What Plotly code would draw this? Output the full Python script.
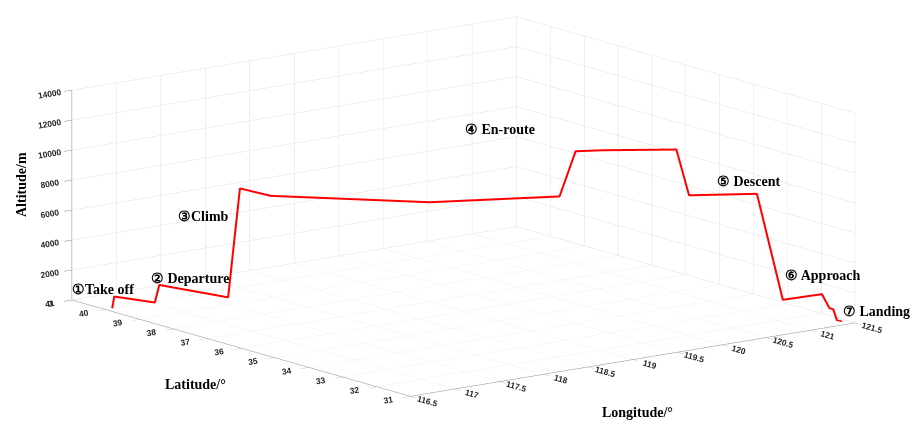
import plotly.graph_objects as go

# Flight trajectory (Beijing -> Shanghai)
lon = [116.58, 116.55, 116.69, 116.71, 116.89, 117.00, 117.22, 118.34, 119.41,
       119.53, 119.75, 120.29, 120.36, 120.88, 121.00, 121.42, 121.46, 121.46,
       121.43, 121.44]
lat = [40.02, 39.88, 39.05, 38.97, 37.41, 37.35, 37.02, 35.27, 34.24,
       34.08, 33.85, 33.10, 32.91, 32.27, 31.82, 31.77, 31.65, 31.54,
       31.35, 31.23]
alt = [0, 900, 900, 2100, 2100, 9300, 8800, 8400, 8400,
       11400, 11400, 11400, 8400, 8400, 1500, 1500, 600, 600,
       0, 0]

# Phase labels: (text, index of trajectory vertex, x shift px, y shift px)
phase_text = ["\u2460Take off", "\u2461 Departure", "\u2462Climb", "\u2463 En-route",
              "\u2464 Descent", "\u2465 Approach", "\u2466 Landing"]
phase_idx = [1, 3, 5, 9, 13, 15, 19]
phase_dx = [-11, 31, -36, -76, -8, 1, 35]
phase_dy = [7, 6, -28, 22, 12, 19, 10]

lon_ticks = [116.5, 117, 117.5, 118, 118.5, 119, 119.5, 120, 120.5, 121, 121.5]
lat_ticks = [31, 32, 33, 34, 35, 36, 37, 38, 39, 40, 41]
alt_ticks = [0, 2000, 4000, 6000, 8000, 10000, 12000, 14000]

fig = go.Figure()
fig.add_trace(go.Scatter3d(
    x=lon, y=lat, z=alt, mode="lines",
    line=dict(color="#ff0000", width=4),
    hoverinfo="skip", showlegend=False))

tickfont = dict(family="Liberation Sans, Arial, sans-serif", size=10, color="#262626", weight="bold")
common = dict(showbackground=True, backgroundcolor="white", gridcolor="#e0e0e0",
              gridwidth=1, showline=True, linecolor="#8c8c8c", linewidth=1,
              ticks="outside", ticklen=10, tickcolor="#8c8c8c", tickfont=tickfont,
              zeroline=False, showspikes=False, title=dict(text=""))

serif = "Liberation Serif, DejaVu Serif, serif"
ann3d = []
for t, i, dx, dy in zip(phase_text, phase_idx, phase_dx, phase_dy):
    ann3d.append(dict(x=lon[i], y=lat[i], z=alt[i], text=t, showarrow=False,
                      xshift=dx, yshift=dy,
                      font=dict(family=serif, size=14, color="black", weight="bold")))

R = 5.0
fig.update_layout(
    width=915, height=429,
    margin=dict(l=0, r=0, t=0, b=0),
    paper_bgcolor="white",
    scene=dict(
        domain=dict(x=[0.0131, 1.0], y=[0.0373, 1.0]),
        xaxis=dict(range=[116.5, 121.5], tickvals=lon_ticks, **common),
        yaxis=dict(range=[31, 41], tickvals=lat_ticks, **common),
        zaxis=dict(range=[0, 14000], tickvals=alt_ticks, tickformat="d", **common),
        aspectmode="manual",
        aspectratio=dict(x=2.707, y=2.705, z=1.041),
        camera=dict(eye=dict(x=-0.5917 * R, y=-0.7766 * R, z=0.2168 * R),
                    up=dict(x=0, y=0, z=1), center=dict(x=0, y=0, z=0),
                    projection=dict(type="orthographic")),
        annotations=ann3d,
    ),
)
titles = [("Altitude/m", 22, 185, -90), ("Latitude/\u00b0", 195, 384, 0),
          ("Longitude/\u00b0", 637, 412, 0)]
for txt, px, py, ang in titles:
    fig.add_annotation(text=txt, x=px / 915, y=1 - py / 429, xref="paper", yref="paper",
                       xanchor="center", yanchor="middle", showarrow=False, textangle=ang,
                       font=dict(family=serif, size=14, color="black", weight="bold"))

fig.write_html("out.html", config={"displayModeBar": False},
               post_script="document.body.style.margin='0px';document.body.style.overflow='hidden';")
